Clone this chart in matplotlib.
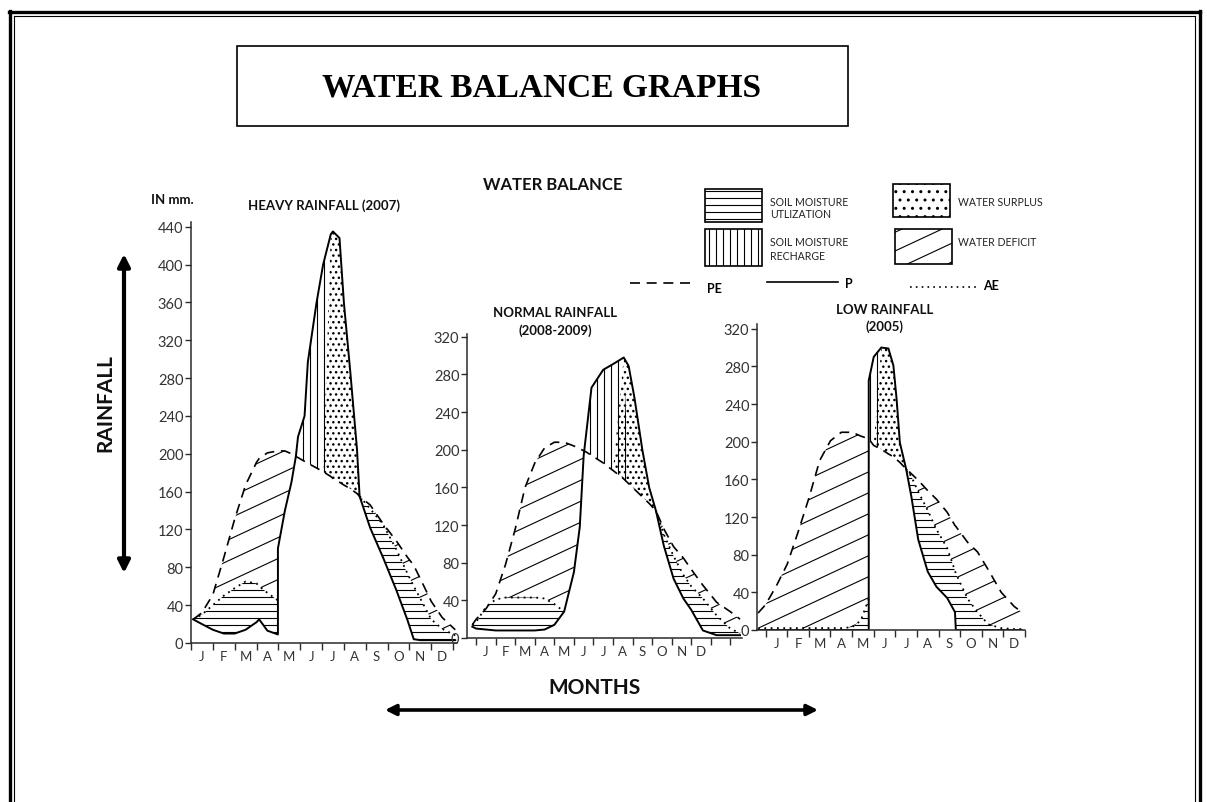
import numpy as np
import matplotlib
matplotlib.use("Agg")
import matplotlib.pyplot as plt
from matplotlib.patches import Rectangle
from matplotlib.collections import LineCollection
from matplotlib.transforms import IdentityTransform

nan = np.nan
months = ["J", "F", "M", "A", "M", "J", "J", "A", "S", "O", "N", "D"]

# heavy rainfall (2007) - month index (0 = Jan), values in mm
x_heavy = [-0.4, 0.0, 0.5, 1.0, 1.5, 2.0, 2.5, 2.62, 3.0, 3.48, 3.48, 3.8, 4.1, 4.3, 4.4, 4.7, 4.85,
           5.25, 5.55, 5.9, 6.0, 6.3, 6.5, 6.8, 7.1, 7.22, 7.7, 8.3, 8.9, 9.4, 9.7, 10.0, 10.5, 11.0, 11.6]
p_heavy = [25, 20, 14, 10, 10, 14, 22, 25, 13, 9, 100, 140, 170, 197, 218, 240, 297,
           360, 400, 432, 435, 428, 360, 285, 205, 155, 122, 90, 56, 25, 4, 3, 3, 3, 3]
pe_heavy = [25, 32, 51, 90, 131, 167, 191, 195, 201, 203, 203, 203, 200, 197, 196, 192, 190,
            185, 181, 176, 174, 170, 167, 163, 158, 155, 146, 126, 108, 91, 82, 68, 44, 27, 14]
ae_heavy = [25, 30, 40, 50, 58, 65, 63, 60, 53, 45, nan, nan, nan, nan, nan, nan, nan,
            nan, nan, nan, nan, nan, nan, nan, nan, 155, 142, 125, 99, 74, 60, 47, 25, 15, 8]

# normal rainfall (2008-2009)
x_normal = [-0.7, -0.5, 0.0, 0.5, 1.0, 1.5, 2.0, 2.5, 3.0, 3.5, 4.0, 4.5, 4.8, 5.0, 5.1, 5.4,
            6.0, 6.5, 7.05, 7.3, 7.6, 8.0, 8.35, 8.7, 9.1, 9.6, 10.1, 10.5, 11.1, 11.8, 12.5, 13.0]
p_normal = [12, 10, 9, 8, 8, 8, 8, 8, 9, 14, 28, 70, 118, 194, 212, 266,
            285, 291, 298, 289, 255, 200, 160, 135, 98, 63, 42, 30, 8, 3, 3, 3]
pe_normal = [14, 20, 31, 47, 78, 116, 160, 186, 202, 208, 208, 204, 201, 199, 198, 194,
             186, 178, 169, 164, 158, 150, 143, 135, 116, 97, 85, 73, 56, 38, 28, 20]
ae_normal = [14, 17, 33, 41, 43, 43, 43, 43, 42, 36, 28, nan, nan, nan, nan, nan,
             nan, nan, nan, nan, nan, nan, nan, 135, 110, 87, 67, 55, 42, 24, 10, 5]

# low rainfall (2005)
x_low = [-0.85, -0.5, 0.0, 0.5, 1.0, 1.5, 2.0, 2.5, 3.0, 3.5, 3.9, 4.27, 4.27, 4.5, 4.85, 5.18, 5.41,
         5.56, 5.71, 6.0, 6.24, 6.56, 7.0, 7.4, 7.9, 8.26, 8.3, 8.85, 9.3, 9.8, 10.4, 11.0, 11.35]
p_low = [0, 0, 0, 0, 0, 0, 0, 0, 0, 0, 0, 0, 265, 290, 300, 299, 281,
         245, 199, 171, 142, 96, 62, 46, 34, 19, 0, 0, 0, 0, 0, 0, 0]
pe_low = [18, 27, 47, 70, 104, 140, 180, 201, 210, 210, 206, 203, 203, 196, 192, 187, 184,
          181, 178, 171, 166, 159, 148, 139, 125, 111, 110, 93, 83, 64, 40, 25, 19]
ae_low = [1, 2, 2, 2, 2, 2, 2, 2, 2, 3, 10, 33, nan, nan, nan, nan, nan,
          nan, nan, 171, 163, 147, 127, 107, 87, 63, 60, 33, 19, 6, 2, 1, 1]

plt.rcParams["font.family"] = ["Lato", "DejaVu Sans"]

W, H = 1207, 803
fig = plt.figure(figsize=(W / 100, H / 100), dpi=100)
bg = fig.add_axes([0, 0, 1, 1])
bg.set_xlim(0, W)
bg.set_ylim(H, 0)
bg.axis("off")


def hatch_lines(ax, clip, angle, gap, trans=None, lw=0.8):
    # parallel lines in pixel space, clipped to a region
    th = np.deg2rad(angle)
    d = np.array([np.cos(th), np.sin(th)])
    n = np.array([-d[1], d[0]])
    c = np.array([W / 2, H / 2])
    L = np.hypot(W, H)
    segs = [[c + n * k - d * L, c + n * k + d * L] for k in np.arange(-L, L, gap)]
    lc = LineCollection(segs, colors="black", linewidths=lw, transform=IdentityTransform())
    ax.add_collection(lc, autolim=False)
    if trans is None:
        lc.set_clip_path(clip)
    else:
        lc.set_clip_path(clip, trans)


def panel(box, x, p, pe, ae, split, xlim, ylim, yticks, ticks_end):
    left, right, top, bottom = box
    ax = fig.add_axes([left / W, 1 - bottom / H, (right - left) / W, (bottom - top) / H])
    ax.set_facecolor("none")
    x = np.array(x, float)
    p = np.array(p, float)
    pe = np.array(pe, float)
    ae = np.array(ae, float)
    ae_fill = np.where(np.isnan(ae), np.minimum(p, pe), ae)

    util = ax.fill_between(x, p, ae_fill, where=ae_fill > p, interpolate=True, facecolor="none", lw=0)
    defi = ax.fill_between(x, ae_fill, pe, where=pe > ae_fill, interpolate=True, facecolor="none", lw=0)
    rech = ax.fill_between(x, pe, p, where=(p >= pe) & (x <= split), interpolate=True, facecolor="none", lw=0)
    ax.fill_between(x, pe, p, where=(p >= pe) & (x >= split), interpolate=True,
                    facecolor="none", edgecolor="black", hatch="...", lw=0)
    for coll, ang, gap in [(util, 0, 7), (defi, 25, 19), (rech, 90, 7)]:
        for path in coll.get_paths():
            hatch_lines(ax, path, ang, gap, trans=coll.get_transform())

    ax.plot(x, p, color="black", lw=1.4)
    ax.plot(x, pe, color="black", lw=1.2, linestyle=(0, (6, 4)))
    ax.plot(x, ae, color="black", lw=1.3, linestyle=(0, (1, 2.5)))

    ax.set_xlim(*xlim)
    ax.set_ylim(*ylim)
    for s in ["top", "right"]:
        ax.spines[s].set_visible(False)
    for s in ["left", "bottom"]:
        ax.spines[s].set_color("#2b2b2b")
        ax.spines[s].set_linewidth(1.1)
    ax.set_xticks(range(12))
    ax.set_xticklabels(months)
    ax.set_xticks(np.arange(-0.5, ticks_end, 1), minor=True)
    ax.tick_params(axis="x", which="major", length=0, pad=5, labelsize=9.5, labelcolor="#333333")
    ax.tick_params(axis="x", which="minor", length=5, width=1, color="#2b2b2b")
    ax.set_yticks(yticks)
    ax.tick_params(axis="y", length=4, width=1, pad=1.5, labelsize=10.5, labelcolor="#333333", color="#2b2b2b")
    return ax


panel((191, 457, 223, 644), x_heavy, p_heavy, pe_heavy, ae_heavy, 5.9,
      (-0.41, 11.68), (0, 445), range(0, 441, 40), 11.6)
panel((467, 742, 335, 639), x_normal, p_normal, pe_normal, ae_normal, 7.05,
      (-0.97, 13.1), (0, 323), range(0, 321, 40), 13.0)
panel((757, 1025, 325, 631), x_low, p_low, pe_low, ae_low, 4.85,
      (-0.9, 11.38), (0, 325), range(0, 321, 40), 11.6)

# frame
bg.plot([9.5, 9.5], [H, 12], color="black", lw=2.4)
bg.plot([8.5, 1200], [12.5, 12.5], color="black", lw=2.4)
bg.plot([1199.5, 1199.5], [12, H], color="black", lw=2.4)
bg.plot([14, 14], [H, 16.5], color="black", lw=0.8)
bg.plot([14, 1195], [16.5, 16.5], color="black", lw=0.8)
bg.plot([1195, 1195], [16.5, H], color="black", lw=0.8)

# title box
bg.add_patch(Rectangle((237, 47), 611, 80, fill=False, ec="black", lw=1.2))
bg.text(542, 88, "WATER BALANCE GRAPHS", ha="center", va="center", fontsize=24,
        fontweight="bold", family="Liberation Serif")

bold = dict(ha="center", va="center", fontweight="bold", color="#111111")
bg.text(553, 185, "WATER BALANCE", fontsize=12, **bold)
bg.text(172, 200, "IN mm.", fontsize=9.5, **bold)
bg.text(324, 206, "HEAVY RAINFALL (2007)", fontsize=9.5, **bold)
bg.text(555, 313, "NORMAL RAINFALL", fontsize=9.5, **bold)
bg.text(555, 331, "(2008-2009)", fontsize=9.5, **bold)
bg.text(885, 310, "LOW RAINFALL", fontsize=9.5, **bold)
bg.text(885, 327, "(2005)", fontsize=9.5, **bold)
bg.text(105, 403, "RAINFALL", rotation=90, fontsize=15, **bold)
bg.text(595, 688, "MONTHS", fontsize=15, **bold)

# arrows
bg.annotate("", xy=(124, 255), xytext=(124, 574),
            arrowprops=dict(arrowstyle="<|-|>", color="black", lw=3, mutation_scale=18, shrinkA=0, shrinkB=0))
bg.annotate("", xy=(385, 711), xytext=(818, 711),
            arrowprops=dict(arrowstyle="<|-|>", color="black", lw=2.6, mutation_scale=16, shrinkA=0, shrinkB=0))

# legend
r1 = Rectangle((705, 190), 57, 33, fill=False, ec="black", lw=1.2)
r2 = Rectangle((705, 230), 57, 37, fill=False, ec="black", lw=1.2)
r3 = Rectangle((893, 185), 57, 33, fill=False, ec="black", lw=1.2, hatch="..")
r4 = Rectangle((895, 230), 57, 35, fill=False, ec="black", lw=1.2)
for r in [r1, r2, r3, r4]:
    bg.add_patch(r)
hatch_lines(bg, r1, 0, 7)
hatch_lines(bg, r2, 90, 7)
hatch_lines(bg, r4, 25, 17)

small = dict(ha="left", va="center", fontsize=7.6, color="#222222")
bg.text(770, 202, "SOIL MOISTURE", **small)
bg.text(770, 214, "UTLIZATION", **small)
bg.text(770, 242, "SOIL MOISTURE", **small)
bg.text(770, 256, "RECHARGE", **small)
bg.text(958, 202, "WATER SURPLUS", **small)
bg.text(958, 243, "WATER DEFICIT", **small)

bg.plot([630, 694], [284, 284], color="black", lw=1.2, linestyle=(0, (6, 4)))
bg.plot([767, 838], [283, 283], color="black", lw=1.2)
bg.plot([910, 977], [288, 288], color="black", lw=1.2, linestyle=(0, (1, 2.5)))
bg.text(707, 289, "PE", ha="left", va="center", fontsize=9, fontweight="bold")
bg.text(845, 284, "P", ha="left", va="center", fontsize=9, fontweight="bold")
bg.text(983, 286, "AE", ha="left", va="center", fontsize=9, fontweight="bold")

fig.savefig("out.png", dpi=100)
